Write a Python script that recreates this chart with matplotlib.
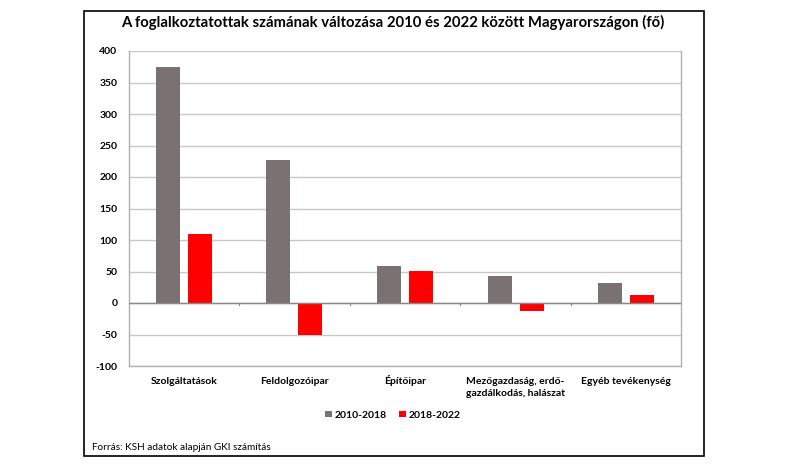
import numpy as np
import matplotlib
matplotlib.use('Agg')
import matplotlib.pyplot as plt
from matplotlib.patches import Rectangle

# data
categories = ['Szolgáltatások', 'Feldolgozóipar', 'Építőipar',
              'Mezőgazdaság, erdő-\ngazdálkodás, halászat', 'Egyéb tevékenység']
vals_2010_2018 = [375, 227, 58, 43, 32]
vals_2018_2022 = [110, -50, 51, -12, 12]
series_labels = ['2010-2018', '2018-2022']
yticks = [-100, -50, 0, 50, 100, 150, 200, 250, 300, 350, 400]

GRAY = '#7a7272'
RED = '#ff0000'
FONT = 'Lato'

plt.rcParams['font.family'] = [FONT, 'DejaVu Sans']

fig = plt.figure(figsize=(7.85, 4.66), dpi=100)
ax = fig.add_axes([128.5 / 785, 1 - 366 / 466, 553 / 785, 315 / 466])

x = np.arange(len(categories))
w = 0.217
off = 0.145
ax.bar(x - off, vals_2010_2018, w, color=GRAY, label=series_labels[0], zorder=3)
ax.bar(x + off, vals_2018_2022, w, color=RED, label=series_labels[1], zorder=3)

ax.set_xlim(-0.5, len(categories) - 0.5)
ax.set_ylim(-100, 400)
ax.set_yticks(yticks)
ax.set_yticklabels([str(t) for t in yticks], fontsize=7.5, fontweight='bold')
ax.yaxis.grid(True, color='#c8c8c8', linewidth=1, zorder=0)
ax.tick_params(axis='y', length=0, pad=8)

# category labels, one text per line so the baselines line up
ax.set_xticks([])
for i, c in enumerate(categories):
    for k, line in enumerate(c.split('\n')):
        ax.annotate(line, xy=(i, 0), xycoords=('data', 'axes fraction'),
                    xytext=(0, -18 - k * 12.5), textcoords='offset pixels',
                    ha='center', va='baseline', fontsize=7.5, fontweight='bold')
for b in range(1, len(categories)):
    ax.plot([b - 0.5, b - 0.5], [0, -3], color='#888888', linewidth=0.8, zorder=4)
ax.axhline(0, color='#888888', linewidth=1, zorder=4)

for s in ax.spines.values():
    s.set_color('#b0b0b0')
    s.set_linewidth(1)
ax.spines['top'].set_visible(False)

fig.text(393 / 785, 1 - 22 / 466, 'A foglalkoztatottak számának változása 2010 és 2022 között Magyarországon (fő)',
         ha='center', va='center', fontsize=10.7, fontweight='bold')

leg = ax.legend(loc='center', bbox_to_anchor=(393 / 785, 1 - 415 / 466),
                bbox_transform=fig.transFigure, ncol=2, frameon=False,
                prop={'family': FONT, 'weight': 'bold', 'size': 7.5},
                handlelength=0.6, handleheight=0.6, handletextpad=0.3,
                columnspacing=1.2)

fig.text(92 / 785, 1 - 447 / 466, 'Forrás: KSH adatok alapján GKI számítás',
         ha='left', va='center', fontsize=7.2)

fig.patches.append(Rectangle((84 / 785, 1 - 456 / 466), (704 - 84) / 785, (456 - 11) / 466,
                             transform=fig.transFigure, fill=False,
                             edgecolor='black', linewidth=1.2))

plt.savefig('out.png', dpi=100)
